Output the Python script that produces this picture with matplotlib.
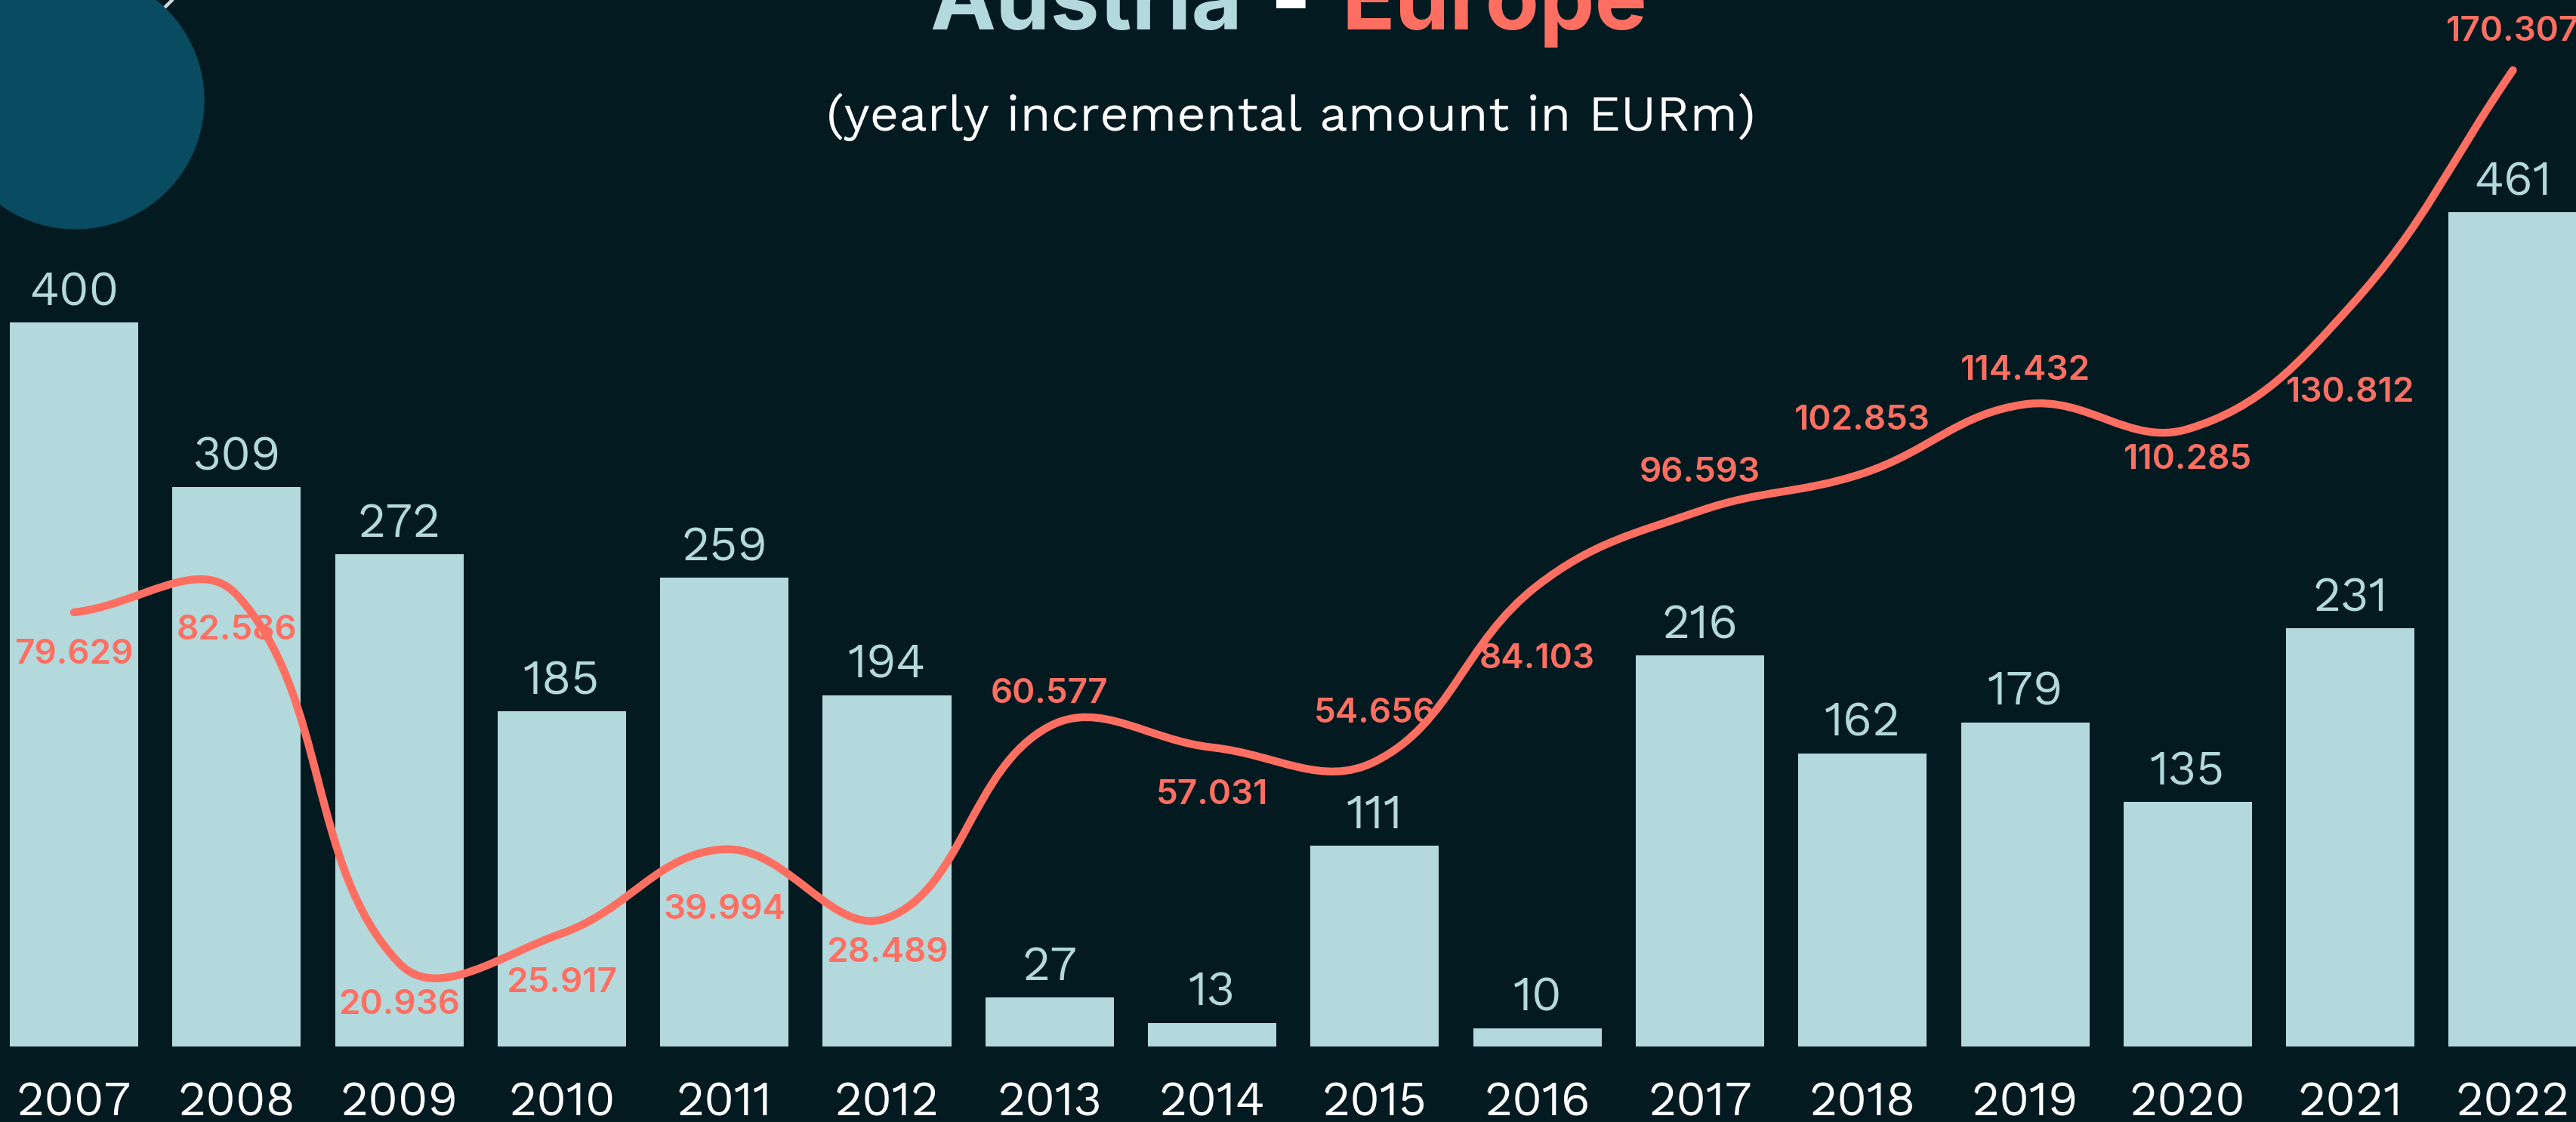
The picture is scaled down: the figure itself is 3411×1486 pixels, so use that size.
import numpy as np
import matplotlib
matplotlib.use("Agg")
import matplotlib.pyplot as plt
import matplotlib.transforms as mtransforms
from matplotlib import font_manager as fm
from matplotlib.path import Path
from matplotlib.patches import PathPatch, Circle

# data
years = [str(y) for y in range(2007, 2023)]
austria = [400, 309, 272, 185, 259, 194, 27, 13, 111, 10, 216, 162, 179, 135, 231, 461]
europe = [79.629, 82.586, 20.936, 25.917, 39.994, 28.489, 60.577, 57.031,
          54.656, 84.103, 96.593, 102.853, 114.432, 110.285, 130.812, 170.307]
# label offset below (+) / above (-) the line point, in pixels
europe_dy = [52, 43, 51, 62, 76, 42, -47, 59, -68, 93, -55, -74, -48, 37, 110, -55]

BG = "#041a21"
BAR = "#b3d9dc"
RED = "#ff6f61"
CIRC = "#094b60"


def pick(names):
    for n in names:
        try:
            fm.findfont(fm.FontProperties(family=n), fallback_to_default=False)
            return n
        except ValueError:
            pass
    return "DejaVu Sans"


FAM = [pick(["Work Sans", "Roboto"]), "DejaVu Sans"]
FAM_B = [pick(["Work Sans Bold", "Work Sans SemiBold", "Inter", "Roboto"]), "DejaVu Sans"]
FAM_M = [pick(["Inter", "Roboto"]), "DejaVu Sans"]

W, H = 3412, 1486
PITCH, X0 = 215.3, 98          # px between bars, px of first bar centre
BAR_K, BAR_BASE = 2.396, 100.3  # px per unit, baseline px from bottom
LINE_K, LINE_BASE = 7.918, 44.5

fig = plt.figure(figsize=(W / 100, H / 100), dpi=100)
fig.patch.set_facecolor(BG)

# decoration / titles in pixel space
bg = fig.add_axes([0, 0, 1, 1], zorder=0)
bg.set_xlim(0, W)
bg.set_ylim(H, 0)
bg.axis("off")
bg.plot([232, 200], [-4, 28], color="#d0d8da", lw=3.2, solid_capstyle="butt")
bg.add_patch(Circle((100, 133), 170, color=CIRC, zorder=3))
t1 = bg.text(1645, 39, "Austria", color=BAR, fontsize=80, fontweight="bold", family=FAM_B,
             ha="right", va="baseline")
t2 = bg.text(1709, 39, "-", color="white", fontsize=80, fontweight="bold", family=FAM_B,
             ha="center", va="baseline")
t3 = bg.text(1776, 39, "Europe", color=RED, fontsize=80, fontweight="bold", family=FAM_B,
             ha="left", va="baseline")
bg.text(1709, 173, "(yearly incremental amount in EURm)", color="white", fontsize=48,
        fontweight="light", family=FAM, ha="center", va="baseline")

# fit title size to the reference width
fig.canvas.draw()
r = fig.canvas.get_renderer()
w = t1.get_window_extent(r).width + t3.get_window_extent(r).width
fs = 80 * (411 + 409) / w
for t in (t1, t2, t3):
    t.set_fontsize(fs)

# bars
ax = fig.add_axes([0, 0, 1, 1], zorder=1)
ax.patch.set_alpha(0)
x = np.arange(len(years))
ax.set_xlim(-X0 / PITCH, (W - X0) / PITCH)
ax.set_ylim(-BAR_BASE / BAR_K, (H - BAR_BASE) / BAR_K)
ax.bar(x, austria, width=0.79, color=BAR)
for i, v in enumerate(austria):
    ax.annotate(str(v), (i, v), xytext=(0, 23 * 0.72), textcoords="offset points",
                ha="center", va="baseline", color=BAR, fontsize=46,
                fontweight="light", family=FAM)
yr_tr = mtransforms.blended_transform_factory(ax.transData, fig.transFigure)
for i, yr in enumerate(years):
    ax.text(i, 1 - 1478 / H, yr, transform=yr_tr, ha="center", va="baseline",
            color="white", fontsize=46, fontweight="light", family=FAM)
ax.axis("off")

# smooth line (Chart.js style tension spline)
ax2 = ax.twinx()
ax2.set_zorder(2)
ax2.patch.set_alpha(0)
ax2.set_ylim(-LINE_BASE / LINE_K, (H - LINE_BASE) / LINE_K)
ax2.axis("off")

px = x * PITCH
py = np.array(europe) * LINE_K
n = len(px)
tension = 0.4
cp_prev, cp_next = [], []
for i in range(n):
    p0 = (px[max(i - 1, 0)], py[max(i - 1, 0)])
    p2 = (px[min(i + 1, n - 1)], py[min(i + 1, n - 1)])
    d01 = np.hypot(px[i] - p0[0], py[i] - p0[1])
    d12 = np.hypot(p2[0] - px[i], p2[1] - py[i])
    s = d01 + d12
    fa = tension * d01 / s
    fb = tension * d12 / s
    cp_prev.append((px[i] - fa * (p2[0] - p0[0]), py[i] - fa * (p2[1] - p0[1])))
    cp_next.append((px[i] + fb * (p2[0] - p0[0]), py[i] + fb * (p2[1] - p0[1])))
verts = [(px[0], py[0])]
codes = [Path.MOVETO]
for i in range(n - 1):
    verts += [cp_next[i], cp_prev[i + 1], (px[i + 1], py[i + 1])]
    codes += [Path.CURVE4] * 3
verts = [(a / PITCH, b / LINE_K) for a, b in verts]
ax2.add_patch(PathPatch(Path(verts, codes), facecolor="none", edgecolor=RED,
                        lw=7.5, capstyle="round", joinstyle="round", zorder=4))

for i, v in enumerate(europe):
    ax2.annotate(f"{v:.3f}", (i, v), xytext=(0, -(europe_dy[i] + 16) * 0.72),
                 textcoords="offset points", ha="center", va="baseline",
                 color=RED, fontsize=33, fontweight="semibold", family=FAM_M, zorder=3)

fig.savefig("out.png", facecolor=BG)
